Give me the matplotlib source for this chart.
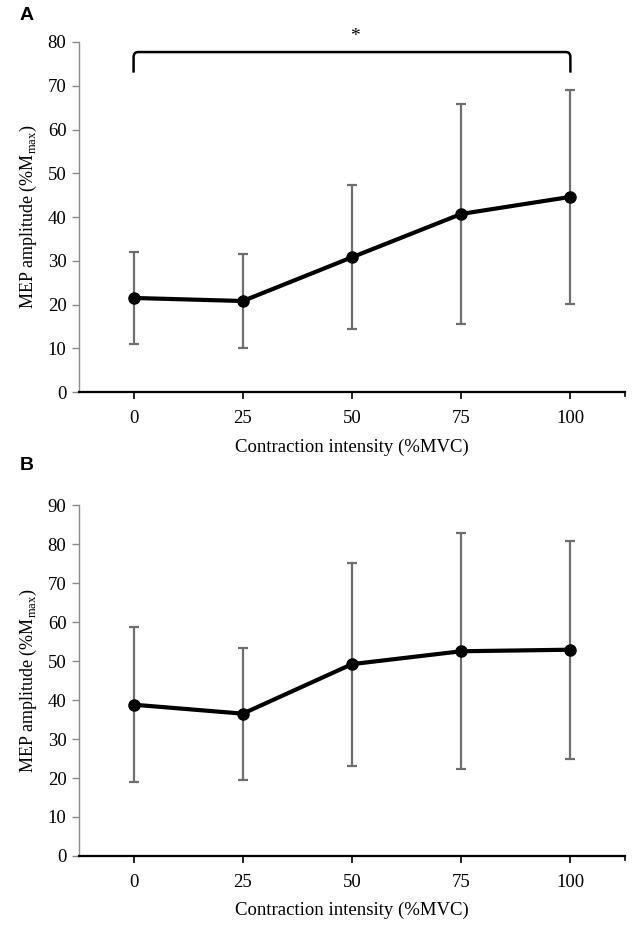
import matplotlib
matplotlib.use("Agg")
import matplotlib.pyplot as plt
from matplotlib.path import Path
from matplotlib.patches import PathPatch

plt.rcParams['font.family'] = ['Liberation Serif', 'DejaVu Serif']
plt.rcParams['mathtext.fontset'] = 'custom'
plt.rcParams['mathtext.rm'] = 'Liberation Serif'

categories = ["0", "25", "50", "75", "100"]
mean_a = [21.5, 20.8, 30.8, 40.7, 44.6]
sd_a = [10.5, 10.8, 16.5, 25.2, 24.4]
mean_b = [38.8, 36.5, 49.2, 52.5, 52.9]
sd_b = [19.8, 16.9, 26.0, 30.3, 27.9]

fig = plt.figure(figsize=(6.38, 9.27), dpi=100)
ax_a = fig.add_axes([0.1238, 0.5771, 0.8558, 0.3776])
ax_b = fig.add_axes([0.1238, 0.0766, 0.8558, 0.3786])

ylabel = r'MEP amplitude (%M$_{\mathrm{max}}$)'

def style(ax, ymax):
    x = list(range(len(categories)))
    ax.set_xlim(-0.5, 4.5)
    ax.set_ylim(0, ymax)
    ax.set_yticks(range(0, ymax + 1, 10))
    ax.set_xticks(x)
    ax.set_xticklabels(categories)
    ax.spines['top'].set_visible(False)
    ax.spines['right'].set_visible(False)
    ax.spines['left'].set_color('#8a8a8a')
    ax.spines['left'].set_linewidth(1.0)
    ax.spines['bottom'].set_color('black')
    ax.spines['bottom'].set_linewidth(1.6)
    ax.tick_params(axis='y', direction='out', length=5, color='#8a8a8a', width=1.0,
                   labelsize=13.5, pad=4)
    ax.tick_params(axis='x', direction='out', length=5, color='black', width=1.2,
                   labelsize=13.5, pad=8)
    # end tick on right of x axis
    ax.plot([4.5, 4.5], [0, -ymax * 0.012], color='black', lw=1.2, clip_on=False)
    ax.set_xlabel('Contraction intensity (%MVC)', fontsize=13.5, labelpad=8)
    ax.set_ylabel(ylabel, fontsize=13, labelpad=6)

def draw(ax, mean, sd):
    x = list(range(len(categories)))
    ax.errorbar(x, mean, yerr=sd, fmt='none', ecolor='#6e6e6e', elinewidth=1.6,
                capsize=3.5, capthick=1.6, zorder=2)
    ax.plot(x, mean, color='black', lw=3.0, marker='o', markersize=8,
            zorder=3, solid_joinstyle='round')

draw(ax_a, mean_a, sd_a)
style(ax_a, 80)
draw(ax_b, mean_b, sd_b)
style(ax_b, 90)

# significance bracket in A
y_top, y_leg = 77.7, 73.0
verts = [(0, y_leg), (0, y_top - 1.2), (0, y_top), (0.04, y_top),
         (4 - 0.04, y_top), (4, y_top), (4, y_top - 1.2), (4, y_leg)]
codes = [Path.MOVETO, Path.LINETO, Path.CURVE3, Path.CURVE3,
         Path.LINETO, Path.CURVE3, Path.CURVE3, Path.LINETO]
ax_a.add_patch(PathPatch(Path(verts, codes), fill=False, lw=1.8, color='black',
                         clip_on=False))
ax_a.text(2.03, 79.3, '*', ha='center', va='bottom', fontsize=14, clip_on=False)

fig.text(27 / 638, 1 - 16 / 927, 'A', fontsize=14, fontweight='bold',
         family='Liberation Sans', ha='center', va='center')
fig.text(27 / 638, 1 - 466 / 927, 'B', fontsize=14, fontweight='bold',
         family='Liberation Sans', ha='center', va='center')

fig.savefig('out.png', dpi=100)
